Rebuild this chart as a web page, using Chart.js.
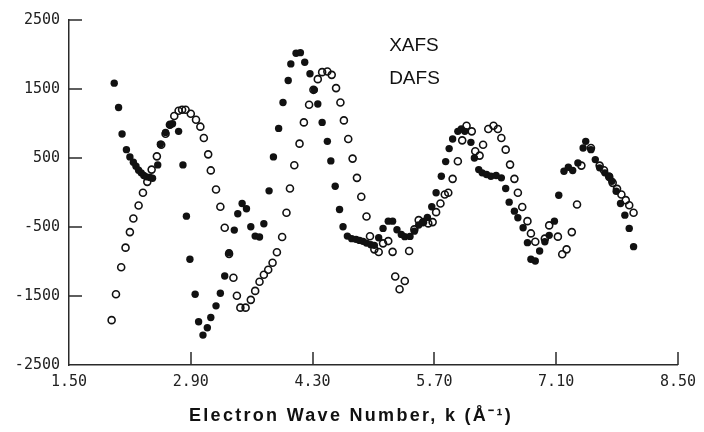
<!DOCTYPE html>
<html>
<head>
<meta charset="utf-8">
<script src="https://cdn.jsdelivr.net/npm/chart.js@4"></script>
<style>
  body { margin: 0; background: #fff; }
  #wrap { width: 704px; height: 432px; }
</style>
</head>
<body>
<div id="wrap"><canvas id="xafs-chart"></canvas></div>
<script>
// XAFS (filled dots)
const xafsK = [2.02, 2.07, 2.11, 2.16, 2.20, 2.24, 2.27, 2.30, 2.33, 2.36, 2.39, 2.43, 2.46, 2.52, 2.55, 2.61, 2.66, 2.69, 2.76, 2.81,
    2.85, 2.89, 2.95, 2.99, 3.04, 3.09, 3.13, 3.19, 3.24, 3.29, 3.34, 3.40, 3.44, 3.49, 3.54, 3.59, 3.64, 3.69, 3.74, 3.80,
    3.85, 3.91, 3.96, 4.02, 4.05, 4.11, 4.16, 4.21, 4.27, 4.32, 4.36, 4.41, 4.47, 4.51, 4.56, 4.61, 4.65, 4.70, 4.75, 4.80,
    4.84, 4.88, 4.92, 4.97, 5.01, 5.06, 5.11, 5.17, 5.22, 5.27, 5.32, 5.36, 5.42, 5.47, 5.52, 5.57, 5.62, 5.67, 5.72, 5.78,
    5.83, 5.87, 5.91, 5.97, 6.01, 6.05, 6.12, 6.16, 6.21, 6.25, 6.30, 6.35, 6.41, 6.47, 6.52, 6.56, 6.62, 6.66, 6.72, 6.77,
    6.81, 6.86, 6.91, 6.97, 7.02, 7.08, 7.13, 7.19, 7.24, 7.29, 7.35, 7.41, 7.44, 7.50, 7.55, 7.60, 7.66, 7.71, 7.74, 7.79,
    7.84, 7.89, 7.94, 7.99];
const xafsVal = [1585, 1232, 848, 621, 516, 438, 380, 322, 285, 246, 227, 217, 206, 400, 700, 871, 982, 997, 886, 400,
    -343, -968, -1474, -1874, -2067, -1961, -1811, -1643, -1460, -1210, -872, -545, -308, -159, -236, -496, -632, -646, -452, 24,
    516, 929, 1305, 1623, 1864, 2018, 2027, 1888, 1720, 1488, 1282, 1016, 741, 458, 91, -246, -496, -632, -669, -679,
    -694, -708, -733, -756, -766, -655, -520, -415, -415, -539, -607, -640, -636, -560, -470, -430, -360, -207, -4, 235,
    448, 636, 776, 886, 920, 886, 727, 501, 332, 285, 260, 235, 246, 212, 58, -140, -270, -366, -510, -727,
    -968, -993, -848, -713, -621, -415, -39, 308, 365, 318, 429, 646, 741, 621, 477, 357, 285, 235, 163, 19,
    -159, -328, -520, -785];

// DAFS (open circles)
const dafsK = [1.99, 2.04, 2.10, 2.15, 2.20, 2.24, 2.30, 2.35, 2.40, 2.45, 2.51, 2.56, 2.61, 2.66, 2.71, 2.76, 2.80, 2.84, 2.90, 2.96,
    3.01, 3.05, 3.10, 3.13, 3.19, 3.24, 3.29, 3.34, 3.39, 3.43, 3.47, 3.53, 3.59, 3.64, 3.69, 3.74, 3.79, 3.84, 3.89, 3.95,
    4.00, 4.04, 4.09, 4.15, 4.20, 4.26, 4.31, 4.36, 4.41, 4.47, 4.52, 4.57, 4.62, 4.66, 4.71, 4.76, 4.81, 4.86, 4.92, 4.96,
    5.01, 5.06, 5.11, 5.17, 5.22, 5.25, 5.30, 5.36, 5.41, 5.47, 5.52, 5.57, 5.63, 5.68, 5.72, 5.77, 5.82, 5.86, 5.91, 5.97,
    6.02, 6.07, 6.13, 6.17, 6.22, 6.26, 6.32, 6.38, 6.43, 6.47, 6.52, 6.57, 6.62, 6.66, 6.71, 6.77, 6.81, 6.86, 6.97, 7.02,
    7.12, 7.17, 7.22, 7.28, 7.34, 7.39, 7.50, 7.60, 7.65, 7.71, 7.75, 7.80, 7.85, 7.90, 7.94, 7.99];
const dafsVal = [-1850, -1474, -1084, -799, -574, -376, -188, -4, 154, 332, 524, 693, 852, 982, 1108, 1185, 1199, 1199, 1141, 1055,
    954, 790, 553, 320, 43, -207, -510, -889, -1236, -1496, -1669, -1669, -1556, -1426, -1293, -1192, -1120, -1019, -867, -646,
    -293, 58, 394, 708, 1016, 1271, 1488, 1643, 1744, 1753, 1705, 1513, 1305, 1045, 776, 491, 212, -62, -347, -633,
    -824, -863, -737, -704, -860, -1218, -1402, -1282, -848, -535, -400, -430, -448, -429, -285, -159, -29, -4, 198, 452,
    756, 968, 886, 597, 535, 693, 920, 968, 920, 790, 621, 404, 198, -4, -210, -415, -593, -713, -669, -477,
    -640, -896, -824, -574, -174, 390, 646, 390, 322, 227, 140, 53, -29, -111, -184, -293];

const xTicks = [1.50, 2.90, 4.30, 5.70, 7.10, 8.50];
const yTicks = [-2500, -1500, -500, 500, 1500, 2500];

const xTitle = 'Electron Wave Number, k (Å⁻¹)';

// where the two series names sit (data coords)
const labelSpots = [{ text: 'XAFS', k: 5.18, v: 2130 }, { text: 'DAFS', k: 5.18, v: 1650 }];

const toPoints = (ks, vs) => ks.map((k, i) => ({ x: k, y: vs[i] }));

// short inward tick marks, the series names and the spaced-out axis title
const plotterBits = {
    id: 'plotterBits',
    afterDraw(chart) {
        const { ctx, chartArea, scales } = chart;
        ctx.save();
        ctx.strokeStyle = '#2a2a2a';
        ctx.lineWidth = 1.5;
        ctx.beginPath();
        yTicks.forEach(v => {
            if (v === -2500) return;
            const y = Math.round(scales.y.getPixelForValue(v));
            ctx.moveTo(chartArea.left, y);
            ctx.lineTo(chartArea.left + 13, y);
        });
        xTicks.forEach(k => {
            if (k === 1.5) return;
            const x = Math.round(scales.x.getPixelForValue(k));
            ctx.moveTo(x, chartArea.bottom);
            ctx.lineTo(x, chartArea.bottom - 13);
        });
        ctx.stroke();

        ctx.fillStyle = '#111';
        ctx.font = '19px "Liberation Sans", Arial, sans-serif';
        ctx.textBaseline = 'middle';
        labelSpots.forEach(l => {
            ctx.fillText(l.text, scales.x.getPixelForValue(l.k), scales.y.getPixelForValue(l.v));
        });

        ctx.font = 'bold 18px "Liberation Sans", Arial, sans-serif';
        ctx.letterSpacing = '2.3px';
        ctx.textAlign = 'center';
        ctx.fillText(xTitle, 351, 416);
        ctx.restore();
    }
};

const tickFont = { family: '"DejaVu Sans Mono", monospace', size: 15 };

new Chart(document.getElementById('xafs-chart'), {
    type: 'scatter',
    data: {
        datasets: [{
            label: 'XAFS',
            data: toPoints(xafsK, xafsVal),
            pointStyle: 'circle',
            pointRadius: 3.7,
            pointBorderWidth: 0,
            backgroundColor: '#111',
            borderColor: '#111',
        }, {
            label: 'DAFS',
            data: toPoints(dafsK, dafsVal),
            pointStyle: 'circle',
            pointRadius: 3.5,
            pointBorderWidth: 1.6,
            backgroundColor: 'rgba(255,255,255,0)',
            borderColor: '#111',
        }]
    },
    options: {
        responsive: true,
        maintainAspectRatio: false,
        animation: false,
        events: [],
        layout: { padding: { top: 20, right: 20, left: 0, bottom: 0 } },
        plugins: {
            legend: { display: false },
            tooltip: { enabled: false },
        },
        scales: {
            x: {
                type: 'linear',
                min: 1.5,
                max: 8.5,
                afterBuildTicks: scale => { scale.ticks = xTicks.map(v => ({ value: v })); },
                afterFit: scale => { scale.height = 67; },
                ticks: {
                    callback: v => v.toFixed(2),
                    font: tickFont,
                    color: '#222',
                    padding: 8,
                    maxRotation: 0,
                    autoSkip: false,
                },
                grid: { drawOnChartArea: false, drawTicks: false },
                border: { color: '#2a2a2a', width: 1.5 },
            },
            y: {
                min: -2500,
                max: 2500,
                afterBuildTicks: scale => { scale.ticks = yTicks.map(v => ({ value: v })); },
                afterFit: scale => { scale.width = 69; },
                ticks: {
                    callback: v => String(v),
                    font: tickFont,
                    color: '#222',
                    padding: 9,
                },
                grid: { drawOnChartArea: false, drawTicks: false },
                border: { color: '#2a2a2a', width: 1.5 },
            }
        }
    },
    plugins: [plotterBits]
});
</script>
</body>
</html>
